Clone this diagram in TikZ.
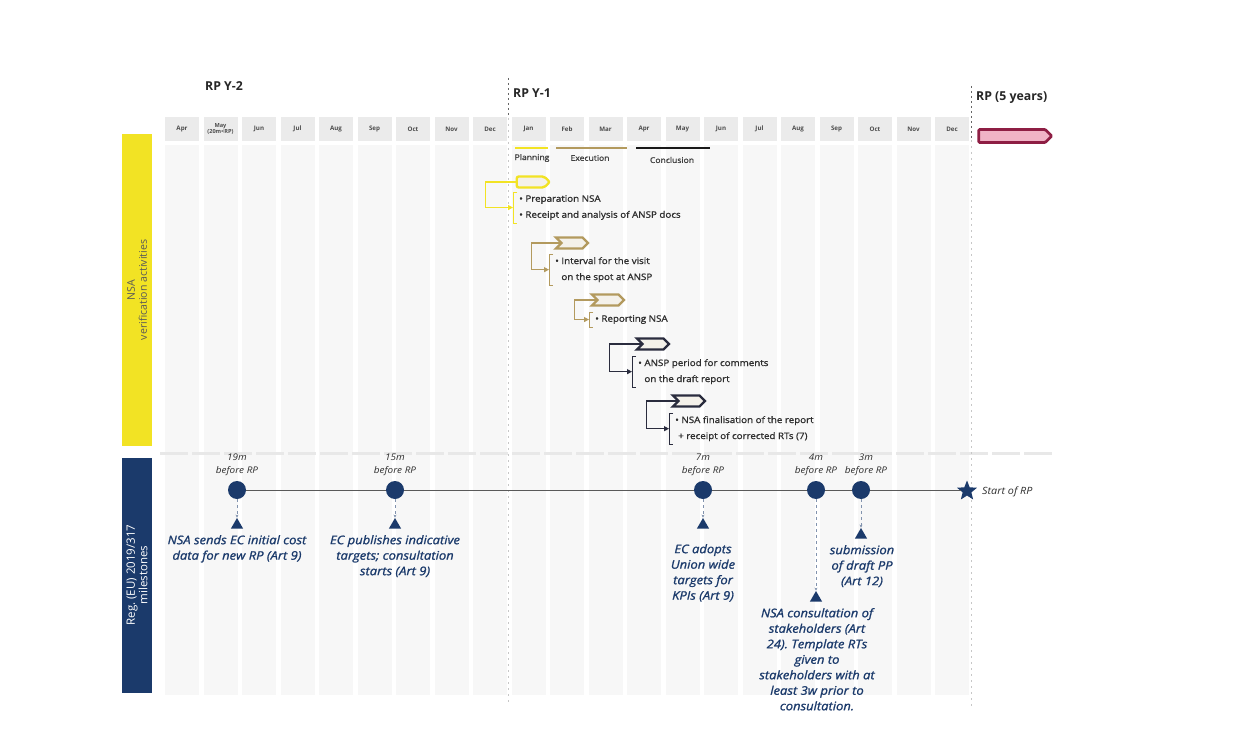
\documentclass[tikz,border=0pt]{standalone}
\usepackage{fontspec}
\setmainfont{Open Sans}
\newfontfamily\semib{Open Sans}[FakeBold=1.2,FakeStretch=1.1]
\newfontfamily\wide{Open Sans}[FakeStretch=1.08]
\usetikzlibrary{shapes.symbols,shapes.geometric,arrows.meta,calc}
\frenchspacing
\definecolor{eyyellow}{HTML}{F2E324}
\definecolor{navy}{HTML}{1B3A6B}
\definecolor{tanc}{HTML}{B39A5E}
\definecolor{darkchev}{HTML}{2A2C3E}
\definecolor{rpred}{HTML}{8E1E44}
\definecolor{rppink}{HTML}{F0B3C6}
\definecolor{stripe}{HTML}{F7F7F7}
\definecolor{cellc}{HTML}{EBEBEB}
\definecolor{chevfill}{HTML}{F4F1EA}
\definecolor{txt}{HTML}{2E2E2E}
\tikzset{
  chev/.style={signal, signal to=east, signal from=west, minimum width=32pt, minimum height=11pt, line width=2.4pt, fill=chevfill, inner sep=0pt},
  chevy/.style={signal, signal to=east, minimum width=33pt, minimum height=11pt, line width=2.4pt, fill=chevfill, inner sep=0pt, draw=eyyellow, rounded corners=2pt},
  act/.style={anchor=north west, inner xsep=6pt, inner ysep=3pt, align=left, text=txt, font=\semib\fontsize{8.9}{16}\selectfont},
  conn/.style={line width=1.2pt, -{Triangle[length=5pt,width=5pt]}},
  brk/.style={line width=1pt},
  mon/.style={font=\bfseries\fontsize{6.2}{6}\selectfont, text=black!70, align=center, inner sep=0pt},
  ms/.style={circle, fill=navy, minimum size=18pt, inner sep=0pt},
  tri/.style={regular polygon, regular polygon sides=3, fill=navy, minimum size=14pt, inner sep=0pt},
  mabove/.style={font=\wide\itshape\fontsize{9.2}{13.5}\selectfont, text=txt, align=center, inner sep=1pt},
  mbelow/.style={font=\semib\itshape\fontsize{11.8}{15.5}\selectfont, text=navy, align=center, inner sep=1pt},
  vdash/.style={dashed, navy!55, line width=0.8pt, -{Stealth[length=3pt,width=3pt]}},
  hdr/.style={font=\bfseries\fontsize{12.3}{13}\selectfont, text=black!85, anchor=west, inner sep=0pt},
  phase/.style={font=\semib\fontsize{7.8}{8}\selectfont, text=black!75, inner sep=0pt}
}
\begin{document}
\begin{tikzpicture}[x=1pt,y=-1pt]
\useasboundingbox (0,0) rectangle (1250,733);
\fill[white] (0,0) rectangle (1250,733);
% column stripes and month cells
\foreach \i in {0,...,20}{
  \pgfmathsetmacro\cx{182+38.5*\i}
  \fill[stripe] (\cx-17,145) rectangle (\cx+17,695);
  \fill[cellc] (\cx-17,117) rectangle (\cx+17,141);
}
\foreach \m [count=\i from 0] in {Apr,,Jun,Jul,Aug,Sep,Oct,Nov,Dec,Jan,Feb,Mar,Apr,May,Jun,Jul,Aug,Sep,Oct,Nov,Dec}{
  \pgfmathsetmacro\cx{182+38.5*\i}
  \node[mon] (m\i) at (\cx,129) {\m};
}
\node[mon, font=\bfseries\fontsize{5.6}{6.5}\selectfont] (mmay) at (220.5,129) {May\\(20m<RP)};
% separator band
\coordinate (sepL) at (160,453);
\coordinate (sepR) at (1055,453);
\draw[black!9, line width=3pt, dash pattern=on 28pt off 4pt] (sepL) -- (sepR);
% year dividers
\coordinate (d1t) at (508,78);
\coordinate (d1m) at (508,118);
\coordinate (d1b) at (508,705);
\coordinate (d2t) at (971,86);
\coordinate (d2m) at (971,140);
\coordinate (d2b) at (971,708);
\draw[black!60, line width=0.9pt, dash pattern=on 2pt off 3pt] (d1t) -- (d1m);
\draw[black!22, line width=0.8pt, dash pattern=on 2pt off 4pt] (d1m) -- (d1b);
\draw[black!60, line width=0.9pt, dash pattern=on 2pt off 3pt] (d2t) -- (d2m);
\draw[black!22, line width=0.8pt, dash pattern=on 2pt off 4pt] (d2m) -- (d2b);
% headers
\node[hdr] (h2) at (205,86) {RP Y-2};
\node[hdr] (h1) at (513,93) {RP Y-1};
\node[hdr] (h0) at (976,98) {RP (5 years)};
% RP arrow
\node[signal, signal to=east, fill=rppink, draw=rpred, line width=2.8pt, minimum width=73pt, minimum height=13pt, inner sep=0pt, rounded corners=1pt] (rp) at (1012,136) {};
% phases
\draw[eyyellow, line width=2.5pt] (515,148) -- (548,148);
\draw[tanc, line width=2.5pt] (556,148) -- (627,148);
\draw[black!90, line width=2.5pt] (636,148) -- (710,148);
\node[phase] (pp) at (532,158) {Planning};
\node[phase] (pe) at (590,158) {Execution};
\node[phase] (pc) at (672,160) {Conclusion};
% left bars
\fill[eyyellow] (122,134) rectangle (152,446);
\fill[navy] (122,458) rectangle (152,693);
\node[rotate=90, align=center, text=black!65, font=\fontsize{10.6}{12}\selectfont] (lb1) at (137,290) {NSA\\verification activities};
\node[rotate=90, align=center, text=white, font=\fontsize{11.5}{12.5}\selectfont] (lb2) at (137,575) {Reg. (EU) 2019/317\\milestones};
% activities
\node[chevy] (c1) at (530.5,182) {};
\node[act] (t1) at (513,192) {• Preparation NSA\\• Receipt and analysis of ANSP docs};
\draw[eyyellow, brk] ([xshift=4pt]t1.north west) -- (t1.north west) -- (t1.south west) -- ([xshift=4pt]t1.south west);
\draw[eyyellow, conn] (c1.west) -- ++(-30,0) |- (t1.west);

\node[chev, draw=tanc] (c2) at (572,243) {};
\node[act] (t2) at (549,254) {• Interval for the visit\\\hphantom{• }on the spot at ANSP};
\draw[tanc, brk] ([xshift=4pt]t2.north west) -- (t2.north west) -- (t2.south west) -- ([xshift=4pt]t2.south west);
\draw[tanc, conn] (c2.west) -- ++(-28,0) |- (t2.west);

\node[chev, draw=tanc] (c3) at (608,300) {};
\node[act] (t3) at (589,312) {• Reporting NSA};
\draw[tanc, brk] ([xshift=4pt]t3.north west) -- (t3.north west) -- (t3.south west) -- ([xshift=4pt]t3.south west);
\draw[tanc, conn] (c3.west) -- ++(-21,0) |- (t3.west);

\node[chev, draw=darkchev] (c4) at (653,344) {};
\node[act] (t4) at (632,356) {• ANSP period for comments\\\hphantom{• }on the draft report};
\draw[darkchev, brk] ([xshift=4pt]t4.north west) -- (t4.north west) -- (t4.south west) -- ([xshift=4pt]t4.south west);
\draw[darkchev, conn] (c4.west) -- ++(-31,0) |- (t4.west);

\node[chev, draw=darkchev] (c5) at (689,401) {};
\node[act] (t5) at (669,413) {• NSA finalisation of the report\\\,\,+ receipt of corrected RTs (7)};
\draw[darkchev, brk] ([xshift=4pt]t5.north west) -- (t5.north west) -- (t5.south west) -- ([xshift=4pt]t5.south west);
\draw[darkchev, conn] (c5.west) -- ++(-30,0) |- (t5.west);
% milestones
\node[ms] (ms19) at (237,490) {};
\node[ms] (ms15) at (395,490) {};
\node[ms] (ms7) at (703,490) {};
\node[ms] (ms4) at (816,490) {};
\node[ms] (ms3) at (861,490) {};
\node[star, star points=5, star point ratio=2.3, fill=navy, minimum size=21pt, inner sep=0pt] (star) at (967,491) {};
\draw[black!65, line width=0.8pt] (ms19) -- (ms15);
\draw[black!65, line width=0.8pt] (ms15) -- (ms7);
\draw[black!65, line width=0.8pt] (ms7) -- (ms4);
\draw[black!65, line width=0.8pt] (ms4) -- (ms3);
\draw[black!65, line width=0.8pt] (ms3.east) -- (star.west |- ms3.east);
\node[anchor=west, font=\wide\itshape\fontsize{10}{10}\selectfont, text=txt, inner sep=0pt] (srp) at (982,492) {Start of RP};
\node[mabove, anchor=south] (a19) at (237,477) {19m\\before RP};
\node[mabove, anchor=south] (a15) at (395,477) {15m\\before RP};
\node[mabove, anchor=south] (a7) at (703,477) {7m\\before RP};
\node[mabove, anchor=south] (a4) at (816,477) {4m\\before RP};
\node[mabove, anchor=south] (a3) at (866,477) {3m\\before RP};
\node[tri] (tr19) at (237,525) {};
\node[tri] (tr15) at (395,525) {};
\node[tri] (tr7) at (703,525) {};
\node[tri] (tr3) at (861,535) {};
\node[tri] (tr4) at (816,598) {};
\draw[vdash] (ms19) -- (tr19.north);
\draw[vdash] (ms15) -- (tr15.north);
\draw[vdash] (ms7) -- (tr7.north);
\draw[vdash] (ms3) -- (tr3.north);
\draw[vdash] (ms4) -- (tr4.north);
\node[mbelow, anchor=north] (b19) at (237,534) {NSA sends EC initial cost\\data for new RP (Art 9)};
\node[mbelow, anchor=north] (b15) at (395,534) {EC publishes indicative\\targets; consultation\\starts (Art 9)};
\node[mbelow, anchor=north] (b7) at (703,543) {EC adopts\\Union wide\\targets for\\KPIs (Art 9)};
\node[mbelow, anchor=north] (b3) at (862,544) {submission\\of draft PP\\(Art 12)};
\node[mbelow, anchor=north] (b4) at (817,607) {NSA consultation of\\stakeholders (Art\\24). Template RTs\\given to\\stakeholders with at\\least 3w prior to\\consultation.};
\end{tikzpicture}
\end{document}
